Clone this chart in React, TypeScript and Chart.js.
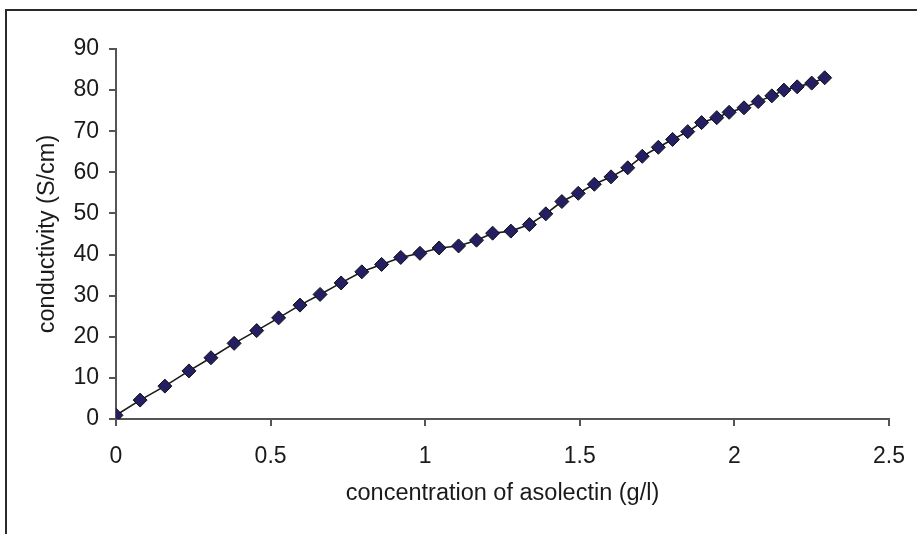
import React, { useEffect, useRef } from "react";
import { Chart, registerables } from "chart.js";

Chart.register(...registerables);

// concentration of asolectin (g/l)
const concentration = [
  0, 0.078, 0.158, 0.236, 0.307, 0.382, 0.455, 0.526, 0.595, 0.66, 0.728,
  0.795, 0.859, 0.921, 0.983, 1.045, 1.108, 1.166, 1.218, 1.277, 1.337, 1.39,
  1.442, 1.495, 1.547, 1.601, 1.655, 1.702, 1.754, 1.8, 1.849, 1.894, 1.943,
  1.983, 2.031, 2.077, 2.121, 2.16, 2.203, 2.25, 2.292,
];

// conductivity (S/cm)
const conductivity = [
  0.9, 4.6, 8.0, 11.7, 14.9, 18.4, 21.5, 24.6, 27.7, 30.3, 33.1, 35.8, 37.6,
  39.3, 40.3, 41.6, 42.1, 43.5, 45.2, 45.7, 47.3, 49.9, 52.9, 54.9, 57.1, 58.9,
  61.1, 63.9, 66.1, 68.0, 69.9, 72.1, 73.3, 74.6, 75.7, 77.2, 78.6, 80.0, 80.8,
  81.7, 83.0,
];

const xTitle = "concentration of asolectin (g/l)";
const yTitle = "conductivity (S/cm)";

const FONT = "'Liberation Sans', Arial, sans-serif";
const AXIS = "#555555";
const TEXT = "#1a1a1a";

// plain number labels: 0, 0.5, 1, 1.5 ...
const plain = (v: number | string) => String(Number(v));

export default function App() {
  const canvasRef = useRef<HTMLCanvasElement | null>(null);

  useEffect(() => {
    const canvas = canvasRef.current;
    if (!canvas) return;
    const points = concentration.map((x, i) => ({ x, y: conductivity[i] }));
    const chart = new Chart(canvas, {
      type: "scatter",
      data: {
        datasets: [
          {
            data: points,
            showLine: true,
            borderColor: "#1a1a1a",
            borderWidth: 1.6,
            pointStyle: "rectRot",
            pointRadius: 7,
            pointBackgroundColor: "#231f62",
            pointBorderColor: "#111111",
            pointBorderWidth: 1,
          },
        ],
      },
      options: {
        responsive: false,
        animation: false,
        events: [],
        layout: { padding: { top: 49, right: 28, bottom: 0, left: 0 } },
        plugins: {
          legend: { display: false },
          tooltip: { enabled: false },
        },
        scales: {
          x: {
            type: "linear",
            min: 0,
            max: 2.5,
            afterFit: (s: any) => {
              s.height = 115;
              // the outer padding already leaves room for the end labels
              s.paddingLeft = 0;
              s.paddingRight = 0;
            },
            ticks: {
              stepSize: 0.5,
              color: TEXT,
              font: { family: FONT, size: 23 },
              padding: 17,
              callback: plain,
            },
            grid: {
              drawOnChartArea: false,
              drawTicks: true,
              tickLength: 7,
              color: AXIS,
              lineWidth: 2,
            },
            border: { display: true, color: AXIS, width: 2 },
            title: {
              display: true,
              text: xTitle,
              color: TEXT,
              font: { family: FONT, size: 23.5 },
              padding: { top: 0, bottom: 26 },
            },
          },
          y: {
            type: "linear",
            min: 0,
            max: 90,
            afterFit: (s: any) => {
              s.width = 116;
              s.paddingTop = 0;
              s.paddingBottom = 0;
            },
            ticks: {
              stepSize: 10,
              color: TEXT,
              font: { family: FONT, size: 23 },
              padding: 10,
              callback: plain,
            },
            grid: {
              drawOnChartArea: false,
              drawTicks: true,
              tickLength: 7,
              color: AXIS,
              lineWidth: 2,
            },
            border: { display: true, color: AXIS, width: 2 },
            title: {
              display: true,
              text: yTitle,
              color: TEXT,
              font: { family: FONT, size: 23.5 },
              padding: { top: 33, bottom: 0 },
            },
          },
        },
      },
    });
    return () => chart.destroy();
  }, []);

  return (
    <div
      style={{
        position: "fixed",
        left: 0,
        top: 0,
        width: 917,
        height: 534,
        background: "#ffffff",
        overflow: "hidden",
      }}
    >
      <div
        style={{
          position: "absolute",
          left: 5,
          top: 9,
          width: 940,
          height: 560,
          borderLeft: "2px solid #2a2a2a",
          borderTop: "2px solid #2a2a2a",
        }}
      />
      <canvas
        ref={canvasRef}
        width={917}
        height={534}
        style={{ position: "absolute", left: 0, top: 0 }}
      />
    </div>
  );
}
